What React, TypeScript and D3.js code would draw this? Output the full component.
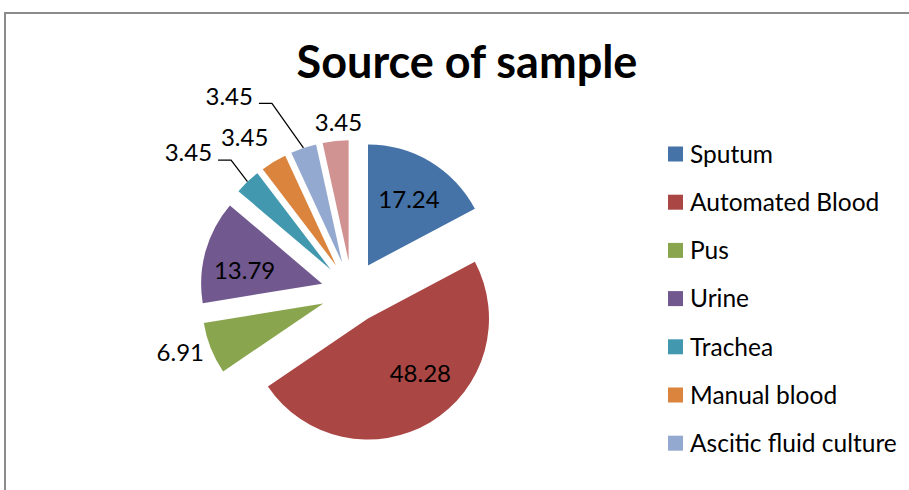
import React, { useEffect, useRef } from 'react';
import * as d3 from 'd3';

const categories = [
  'Sputum',
  'Automated Blood',
  'Pus',
  'Urine',
  'Trachea',
  'Manual blood',
  'Ascitic fluid culture',
  'Others',
];
const values = [17.24, 48.28, 6.91, 13.79, 3.45, 3.45, 3.45, 3.45];
const colors = ['#4572A7', '#AA4643', '#89A54E', '#71588F', '#4198AF', '#DB843D', '#93A9CF', '#D19392'];

// label placement (fraction of radius, angle in degrees clockwise from 12 o'clock)
const labelRadius = [0.64, 0.63, 1.25, 0.65, 1.52, 1.3, 1.66, 1.15];
const labelAngle = [32, 136.6, 250.9, 279.5, 309.3, 324.5, 325.8, 355.8];
const hasLeader = [false, false, false, false, true, false, true, false];
const legendShown = 7; // last entry doesn't fit in the legend box

const W = 909;
const H = 490;
const FONT = 'Lato, "Open Sans", sans-serif';

interface Slice {
  name: string;
  value: number;
  color: string;
  i: number;
}

const App: React.FC = () => {
  const svgRef = useRef<SVGSVGElement>(null);

  useEffect(() => {
    if (!svgRef.current) return;
    const svg = d3.select(svgRef.current);
    svg.selectAll('*').remove();

    const data: Slice[] = categories.map((name, i) => ({ name, value: values[i], color: colors[i], i }));

    // chart area border
    svg.append('rect')
      .attr('x', 5)
      .attr('y', 13)
      .attr('width', W + 50)
      .attr('height', H + 50)
      .attr('fill', '#fff')
      .attr('stroke', '#8c8c8c')
      .attr('stroke-width', 2);

    // title
    svg.append('text')
      .attr('x', 467)
      .attr('y', 78)
      .attr('text-anchor', 'middle')
      .attr('font-family', FONT)
      .attr('font-weight', 700)
      .attr('font-size', 45)
      .attr('fill', '#000')
      .text('Source of sample');

    const cx = 352;
    const cy = 292;
    const r = 121;
    const explode = 31;

    const pie = d3.pie<Slice>()
      .sort(null)
      .value(d => d.value)
      .startAngle(0)
      .endAngle(2 * Math.PI);
    const arcs = pie(data);

    const arc = d3.arc<d3.PieArcDatum<Slice>>()
      .innerRadius(0)
      .outerRadius(r);

    const apex = (a: d3.PieArcDatum<Slice>) => {
      const mid = (a.startAngle + a.endAngle) / 2;
      return [cx + Math.sin(mid) * explode, cy - Math.cos(mid) * explode];
    };

    const g = svg.append('g');

    g.selectAll('.slice')
      .data(arcs)
      .enter()
      .append('path')
      .attr('class', 'slice')
      .attr('transform', d => {
        const [x, y] = apex(d);
        return `translate(${x},${y})`;
      })
      .attr('d', arc)
      .attr('fill', d => d.data.color);

    // data labels
    arcs.forEach(d => {
      const [ax, ay] = apex(d);
      const ang = (labelAngle[d.data.i] * Math.PI) / 180;
      const k = labelRadius[d.data.i] * r;
      const lx = ax + Math.sin(ang) * k;
      const ly = ay - Math.cos(ang) * k;

      const t = g.append('text')
        .attr('x', lx)
        .attr('y', ly)
        .attr('dy', '0.35em')
        .attr('text-anchor', 'middle')
        .attr('font-family', FONT)
        .attr('font-size', 24)
        .attr('fill', '#000')
        .text(d.data.value.toFixed(2));

      if (hasLeader[d.data.i]) {
        const tw = (t.node() as SVGTextElement).getComputedTextLength();
        const mid = (d.startAngle + d.endAngle) / 2;
        const ox = ax + Math.sin(mid) * r;
        const oy = ay - Math.cos(mid) * r;
        const x0 = lx + tw / 2 + 6;
        const yl = ly + 7;
        g.append('path')
          .attr('d', `M${x0},${yl}H${x0 + 13}L${ox},${oy}`)
          .attr('fill', 'none')
          .attr('stroke', '#000')
          .attr('stroke-width', 1.25);
      }
    });

    // legend
    const legend = svg.append('g').attr('transform', 'translate(668,154)');
    const items = legend.selectAll('.item')
      .data(data.slice(0, legendShown))
      .enter()
      .append('g')
      .attr('class', 'item')
      .attr('transform', (_d, i) => `translate(0,${i * 48.2})`);

    items.append('rect')
      .attr('x', 0)
      .attr('y', -7.5)
      .attr('width', 15)
      .attr('height', 15)
      .attr('fill', d => d.color);

    items.append('text')
      .attr('x', 22)
      .attr('y', 0)
      .attr('dy', '0.36em')
      .attr('font-family', FONT)
      .attr('font-size', 24.5)
      .attr('fill', '#000')
      .text(d => d.name);
  }, []);

  return (
    <div style={{ position: 'absolute', left: 0, top: 0, width: W, height: H, overflow: 'hidden', background: '#fff' }}>
      <svg ref={svgRef} width={W} height={H} />
    </div>
  );
};

export default App;
